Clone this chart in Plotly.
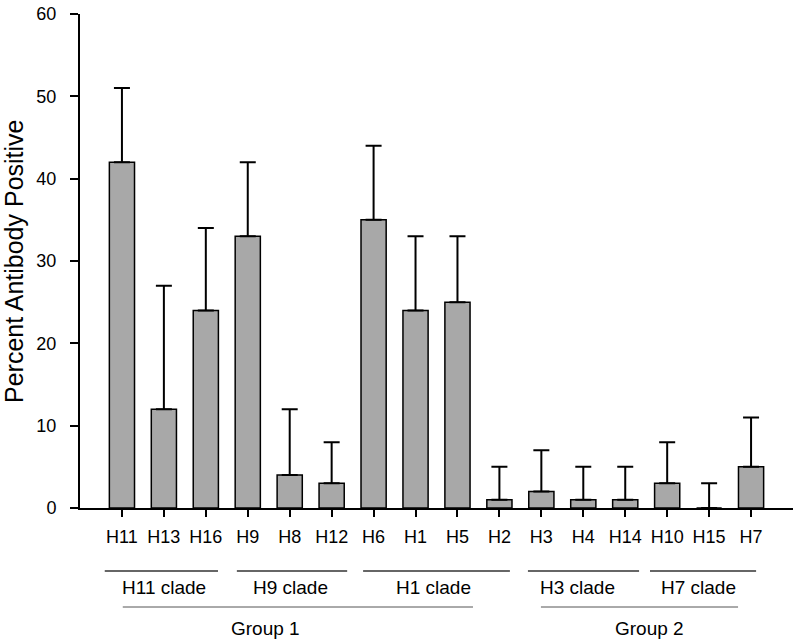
import plotly.graph_objects as go

categories = ["H11", "H13", "H16", "H9", "H8", "H12", "H6", "H1", "H5", "H2",
              "H3", "H4", "H14", "H10", "H15", "H7"]
values = [42, 12, 24, 33, 4, 3, 35, 24, 25, 1, 2, 1, 1, 3, 0, 5]
upper = [51, 27, 34, 42, 12, 8, 44, 33, 33, 5, 7, 5, 5, 8, 3, 11]
errors = [u - v for u, v in zip(upper, values)]

clade_names = ["H11 clade", "H9 clade", "H1 clade", "H3 clade", "H7 clade"]
clade_line_x = [(-0.41, 2.29), (2.74, 5.37), (5.75, 9.25), (9.68, 12.33), (12.59, 15.12)]
clade_text_x = [1.0, 4.03, 7.42, 10.85, 13.74]
group_names = ["Group 1", "Group 2"]
group_line_x = [(0.02, 8.37), (9.99, 14.69)]
group_text_x = [3.43, 12.57]

FONT = "Liberation Sans, Arial, sans-serif"

fig = go.Figure()
fig.add_trace(go.Bar(
    x=list(range(len(categories))),
    y=values,
    width=0.6,
    marker=dict(color="#a8a8a8", line=dict(color="black", width=1.5)),
    error_y=dict(type="data", array=errors, arrayminus=[0] * len(errors),
                 symmetric=False, color="black", thickness=2, width=8),
    showlegend=False,
))

shapes = []
annotations = []
PLOT_H = 494
line_y_clade = (508 - 571) / PLOT_H
text_y_clade = (508 - 587) / PLOT_H
line_y_group = (508 - 607) / PLOT_H
text_y_group = (508 - 628) / PLOT_H
for name, (x0, x1), tx in zip(clade_names, clade_line_x, clade_text_x):
    shapes.append(dict(type="line", xref="x", yref="paper", x0=x0, x1=x1,
                       y0=line_y_clade, y1=line_y_clade,
                       line=dict(color="#333333", width=1.3)))
    annotations.append(dict(text=name, xref="x", yref="paper", x=tx, y=text_y_clade,
                            xanchor="center", yanchor="middle",
                            showarrow=False, font=dict(family=FONT, size=19, color="black")))
for name, (x0, x1), tx in zip(group_names, group_line_x, group_text_x):
    shapes.append(dict(type="line", xref="x", yref="paper", x0=x0, x1=x1,
                       y0=line_y_group, y1=line_y_group,
                       line=dict(color="#555555", width=1)))
    annotations.append(dict(text=name, xref="x", yref="paper", x=tx, y=text_y_group,
                            xanchor="center", yanchor="middle",
                            showarrow=False, font=dict(family=FONT, size=19, color="black")))

annotations.append(dict(text="Percent Antibody Positive", xref="paper", yref="paper",
                        x=0, y=0.5, xshift=-66, textangle=-90, showarrow=False,
                        xanchor="center", yanchor="middle",
                        font=dict(family=FONT, size=25, color="black")))

fig.update_layout(
    width=797, height=640,
    margin=dict(l=80, r=4, t=14, b=132),
    paper_bgcolor="white", plot_bgcolor="white",
    font=dict(family=FONT, size=18, color="black"),
    shapes=shapes,
    annotations=annotations,
    xaxis=dict(
        range=[-1, 16], tickmode="array", tickvals=list(range(len(categories))),
        ticktext=categories, showline=True, linecolor="black", linewidth=2,
        ticks="outside", ticklen=7, tickwidth=2, tickcolor="black",
        showgrid=False, zeroline=False, tickfont=dict(size=18),
        ticklabelstandoff=4,
    ),
    yaxis=dict(
        range=[0, 60], tickvals=[0, 10, 20, 30, 40, 50, 60],
        showline=True, linecolor="black", linewidth=2,
        ticks="outside", ticklen=8, tickwidth=2, tickcolor="black",
        showgrid=False, zeroline=False, tickfont=dict(size=18),
        ticklabelstandoff=10,
    ),
)

fig.write_html("out.html", config={"displayModeBar": False},
               post_script="document.body.style.margin='0px';document.body.style.overflow='hidden';")
